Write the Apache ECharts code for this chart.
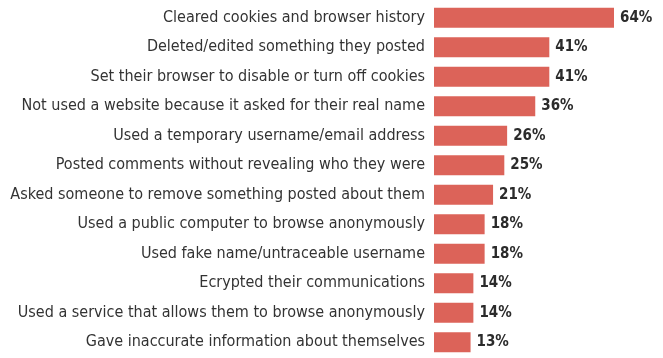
<!DOCTYPE html>
<html>
<head>
<meta charset="utf-8">
<script src="https://cdn.jsdelivr.net/npm/echarts@6/dist/echarts.min.js"></script>
<style>
  html, body { margin: 0; padding: 0; background: #fff; }
  #main { width: 663px; height: 358px; }
</style>
</head>
<body>
<div id="main"></div>
<script>
// categories, top to bottom
var categories = [
    'Cleared cookies and browser history',
    'Deleted/edited something they posted',
    'Set their browser to disable or turn off cookies',
    'Not used a website because it asked for their real name',
    'Used a temporary username/email address',
    'Posted comments without revealing who they were',
    'Asked someone to remove something posted about them',
    'Used a public computer to browse anonymously',
    'Used fake name/untraceable username',
    'Ecrypted their communications',
    'Used a service that allows them to browse anonymously',
    'Gave inaccurate information about themselves'
];
var values = [64, 41, 41, 36, 26, 25, 21, 18, 18, 14, 14, 13];

var myChart = echarts.init(document.getElementById('main'));

var labelFont = '"Liberation Sans Narrow", "DejaVu Sans Condensed", "Roboto", sans-serif';

option = {
    backgroundColor: '#ffffff',
    animation: false,
    grid: {
        left: 434,
        right: 4,
        top: 3,
        bottom: 1
    },
    xAxis: {
        type: 'value',
        min: 0,
        max: 80,
        show: false
    },
    yAxis: {
        type: 'category',
        inverse: true,
        data: categories,
        axisLine: { show: false },
        axisTick: { show: false },
        axisLabel: {
            margin: 9,
            color: '#333333',
            fontSize: 16,
            fontFamily: labelFont
        }
    },
    series: [
        {
            type: 'bar',
            data: values,
            barCategoryGap: '32%',
            itemStyle: { color: '#dc6359' },
            label: {
                show: true,
                position: 'right',
                distance: 6,
                formatter: '{c}%',
                color: '#2b2b2b',
                fontSize: 15,
                fontWeight: 'bold',
                fontFamily: labelFont
            }
        }
    ]
};
myChart.setOption(option);
</script>
</body>
</html>
